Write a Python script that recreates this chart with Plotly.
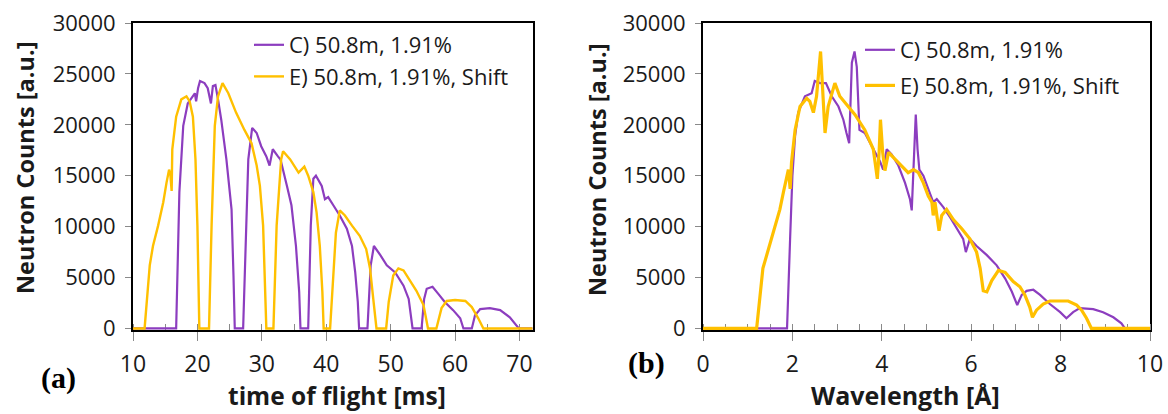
import plotly.graph_objects as go

W, H = 1168, 414

# ---------------- data ----------------
series_names = ["C) 50.8m, 1.91%", "E) 50.8m, 1.91%, Shift"]

tof_c = [10, 16.7, 17.2, 17.8, 18.5, 19.2, 19.6, 19.8, 20.1, 20.4, 21.1, 21.6, 22.1, 22.4, 22.8, 23.2,
         23.7, 24.5, 25.3, 25.6, 25.8, 27.1, 27.5, 27.9, 28.5, 29.2, 29.9, 30.7, 31.2, 31.7, 32.5,
         32.9, 33.9, 34.6, 35.3, 35.8, 36.0, 37.2, 37.6, 38.0, 38.4, 39.3, 39.8, 40.3, 41.1, 42.1,
         43.2, 44.0, 44.5, 44.9, 45.1, 46.4, 46.9, 47.4, 48.4, 49.4, 50.7, 52.0, 52.8, 53.4, 54.8,
         55.2, 55.6, 56.5, 57.4, 58.4, 59.7, 60.8, 61.3, 62.6, 63.1, 63.9, 65.4, 67.0, 68.5, 69.6,
         69.9, 72]
counts_tof_c = [0, 0, 13400, 19900, 22100, 22800, 23100, 22300, 23600, 24300, 24100, 23600, 22100,
                23800, 23900, 22500, 20500, 16600, 11700, 5200, 0, 0, 8500, 16600, 19700, 19200,
                17900, 16900, 16000, 17600, 16900, 16600, 14000, 12100, 8100, 3600, 0, 0, 10100,
                14700, 15000, 14000, 12700, 12900, 12100, 11100, 9800, 8100, 5500, 2600, 0, 0, 6200,
                8100, 7200, 6200, 5500, 4200, 2900, 0, 0, 2900, 3900, 4100, 3400, 2600, 1800, 1000,
                0, 0, 1300, 1900, 2000, 1800, 1100, 300, 0, 0]

tof_e = [10, 11.8, 12.6, 13.1, 13.9, 14.7, 15.2, 15.6, 15.8, 16.0, 16.1, 16.7, 17.5, 18.3, 18.8,
         19.3, 19.7, 20.0, 20.3, 21.8, 22.2, 22.7, 23.2, 23.9, 24.8, 26.0, 27.3, 28.4, 29.2, 29.7,
         30.2, 30.5, 30.7, 31.8, 32.3, 33.0, 33.3, 34.4, 35.7, 36.6, 37.2, 38.0, 38.5, 39.0, 39.4,
         39.6, 40.6, 41.1, 41.5, 42.1, 42.9, 44.0, 45.2, 46.2, 46.8, 47.3, 47.8, 49.3, 49.7, 50.4,
         51.2, 52.0, 53.0, 54.0, 55.1, 55.8, 57.1, 57.9, 58.7, 60.0, 61.6, 62.6, 63.6, 64.4, 72]
counts_tof_e = [0, 0, 6200, 8100, 10100, 12400, 14300, 15600, 15100, 13500, 17600, 20800, 22500,
                22800, 22300, 20800, 16600, 10100, 0, 0, 10100, 19900, 22800, 24100, 23100, 21200,
                19500, 18200, 16000, 14000, 10100, 3500, 0, 0, 10100, 16600, 17400, 16600, 15300,
                15900, 15000, 13400, 11400, 8100, 3600, 0, 0, 5200, 9400, 11600, 11100, 10100, 9100,
                7800, 5900, 2900, 0, 0, 2600, 5200, 5900, 5700, 4700, 3700, 2300, 0, 0, 2000, 2700,
                2800, 2700, 2100, 1000, 0, 0]

wl_c = [0, 1.88, 1.95, 2.0, 2.06, 2.13, 2.28, 2.43, 2.5, 2.62, 2.75, 2.88, 3.03, 3.14, 3.21, 3.27,
        3.33, 3.39, 3.44, 3.5, 3.62, 3.77, 3.96, 4.03, 4.11, 4.22, 4.37, 4.52, 4.63, 4.67, 4.71,
        4.76, 4.8, 4.84, 4.93, 5.04, 5.15, 5.23, 5.38, 5.53, 5.68, 5.82, 5.88, 5.97, 6.12, 6.35,
        6.57, 6.76, 6.91, 7.03, 7.13, 7.24, 7.39, 7.54, 7.76, 7.99, 8.13, 8.28, 8.43, 8.73, 8.95,
        9.18, 9.36, 9.44, 10]
counts_wl_c = [0, 0, 9000, 15000, 18900, 21200, 22800, 23100, 24300, 24100, 24100, 22800, 21800,
               20500, 19200, 18200, 26100, 27200, 25700, 19500, 19200, 17900, 16400, 15600, 17600,
               17100, 16000, 14300, 12700, 11600, 16600, 21000, 17600, 15600, 15000, 13700, 12400,
               12700, 11900, 10900, 9800, 8800, 7500, 8800, 8100, 7200, 6200, 4900, 3600, 2300,
               3300, 3700, 3800, 3300, 2400, 1600, 1000, 1600, 2000, 1900, 1600, 1100, 500, 0, 0]

wl_e = [0, 1.2, 1.34, 1.49, 1.6, 1.72, 1.8, 1.91, 1.95, 1.98, 2.06, 2.17, 2.32, 2.39, 2.47, 2.54,
        2.63, 2.69, 2.73, 2.8, 2.95, 3.06, 3.21, 3.4, 3.62, 3.81, 3.9, 3.94, 3.97, 4.02, 4.07, 4.15,
        4.3, 4.44, 4.59, 4.71, 4.82, 4.93, 5.04, 5.12, 5.15, 5.19, 5.24, 5.28, 5.34, 5.45, 5.6,
        5.79, 5.97, 6.12, 6.2, 6.27, 6.35, 6.46, 6.61, 6.76, 6.94, 7.09, 7.2, 7.31, 7.37, 7.46,
        7.61, 7.76, 7.99, 8.17, 8.36, 8.47, 8.58, 8.69, 10]
counts_wl_e = [0, 0, 5900, 8200, 9800, 11700, 13400, 15600, 13700, 16300, 19500, 21800, 22600,
               22300, 21200, 22800, 27200, 22800, 19200, 21800, 24100, 22800, 22000, 21000, 19500,
               17600, 14700, 17300, 20500, 17300, 15500, 17300, 16600, 16000, 15300, 15600, 15300,
               14300, 13000, 12400, 11100, 12400, 10700, 9600, 11100, 11700, 10700, 9800, 8800,
               7500, 5900, 3700, 3600, 4700, 5700, 5500, 4600, 4100, 3300, 2100, 1100, 1800, 2400,
               2700, 2700, 2700, 2300, 1800, 1000, 0, 0]

y_ticks = [0, 5000, 10000, 15000, 20000, 25000, 30000]

# ---------------- styling ----------------
PURPLE = "#8C3DBF"
GOLD = "#FFC000"
FONT = "Open Sans"
TXT = "#1a1a1a"


def px(x):
    return x / W


def py(y):
    return 1 - y / H


fig = go.Figure()

fig.add_trace(go.Scatter(x=tof_c, y=counts_tof_c, mode="lines", name=series_names[0],
                         line=dict(color=PURPLE, width=2.2), xaxis="x", yaxis="y",
                         legend="legend", legendgroup="a1"))
fig.add_trace(go.Scatter(x=tof_e, y=counts_tof_e, mode="lines", name=series_names[1],
                         line=dict(color=GOLD, width=2.4), xaxis="x", yaxis="y",
                         legend="legend", legendgroup="a2"))
fig.add_trace(go.Scatter(x=wl_c, y=counts_wl_c, mode="lines", name=series_names[0],
                         line=dict(color=PURPLE, width=2.2), xaxis="x2", yaxis="y2",
                         legend="legend2", legendgroup="b1"))
fig.add_trace(go.Scatter(x=wl_e, y=counts_wl_e, mode="lines", name=series_names[1],
                         line=dict(color=GOLD, width=3.2), xaxis="x2", yaxis="y2",
                         legend="legend2", legendgroup="b2"))

common_x = dict(showline=True, linecolor="black", linewidth=2, mirror=True, showgrid=False,
                zeroline=False, ticks="outside", ticklen=9, tickcolor="#8a8a8a", tickwidth=1,
                automargin=False, layer="below traces", ticklabelstandoff=3,
                tickfont=dict(family=FONT, size=23, color=TXT))
common_y = dict(showline=True, linecolor="black", linewidth=2, mirror=True, showgrid=False,
                zeroline=False, ticks="outside", ticklen=6, tickcolor="#8a8a8a", tickwidth=1,
                automargin=False, layer="below traces", ticklabelstandoff=5,
                range=[-150, 30000], tickvals=y_ticks, ticktext=[str(v) for v in y_ticks],
                tickfont=dict(family=FONT, size=22, color=TXT))

fig.update_layout(
    width=W, height=H,
    margin=dict(l=0, r=0, t=0, b=0, autoexpand=False),
    paper_bgcolor="white", plot_bgcolor="white",
    xaxis=dict(domain=[px(133), px(533)], range=[10, 72.1], tickvals=[10, 20, 30, 40, 50, 60, 70],
               minor=dict(ticks="inside", ticklen=6, tickcolor="#8a8a8a", dtick=5, tick0=10),
               anchor="y", **common_x),
    yaxis=dict(domain=[py(330), py(23)], anchor="x", **common_y),
    xaxis2=dict(domain=[px(703), px(1150)], range=[0, 10], tickvals=[0, 2, 4, 6, 8, 10],
                minor=dict(ticks="inside", ticklen=6, tickcolor="#8a8a8a", dtick=0.5, tick0=0),
                anchor="y2", **common_x),
    yaxis2=dict(domain=[py(330), py(23)], anchor="x2", **common_y),
    legend=dict(x=px(249), y=py(24), xanchor="left", yanchor="top", bgcolor="rgba(0,0,0,0)",
                font=dict(family=FONT, size=22, color=TXT), traceorder="grouped",
                tracegroupgap=0, borderwidth=0),
    legend2=dict(x=px(860), y=py(29), xanchor="left", yanchor="top", bgcolor="rgba(0,0,0,0)",
                 font=dict(family=FONT, size=22, color=TXT), traceorder="grouped",
                 tracegroupgap=4, borderwidth=0),
    showlegend=True,
)

ann = [
    dict(text="<b>Neutron Counts [a.u.]</b>", x=px(25), y=py(168), textangle=-90,
         font=dict(family=FONT, size=23.5, color=TXT)),
    dict(text="<b>Neutron Counts [a.u.]</b>", x=px(597), y=py(170), textangle=-90,
         font=dict(family=FONT, size=23.5, color=TXT)),
    dict(text="<b>time of flight [ms]</b>", x=px(337), y=py(395),
         font=dict(family=FONT, size=24.5, color=TXT)),
    dict(text="<b>Wavelength [Å]</b>", x=px(905), y=py(395),
         font=dict(family=FONT, size=25, color=TXT)),
    dict(text="<b>(a)</b>", x=px(58), y=py(378),
         font=dict(family="Liberation Serif", size=30, color="black")),
    dict(text="<b>(b)</b>", x=px(646), y=py(363),
         font=dict(family="Liberation Serif", size=30, color="black")),
]
for a in ann:
    a.update(xref="paper", yref="paper", showarrow=False, xanchor="center", yanchor="middle")
fig.update_layout(annotations=ann)

fig.write_html("out.html")
